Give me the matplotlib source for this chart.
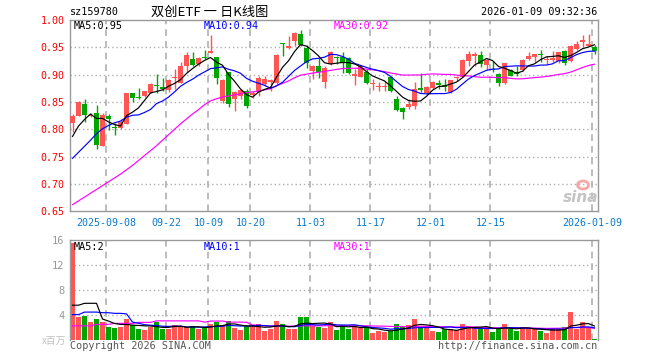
import numpy as np
import pandas as pd
import matplotlib
matplotlib.use("Agg")
import matplotlib.pyplot as plt
from matplotlib.patches import Ellipse

# ---------------- data ----------------
opens = [0.812, 0.825, 0.847, 0.825, 0.830, 0.770, 0.825, 0.804, 0.802, 0.810,
         0.866, 0.860, 0.861, 0.867, 0.881, 0.877, 0.872, 0.893, 0.885, 0.916,
         0.929, 0.919, 0.933, 0.940, 0.933, 0.852, 0.904, 0.855, 0.861, 0.870,
         0.862, 0.868, 0.882, 0.887, 0.884, 0.958, 0.948, 0.962, 0.975, 0.948,
         0.907, 0.916, 0.887, 0.919, 0.932, 0.933, 0.930, 0.898, 0.896, 0.904,
         0.882, 0.877, 0.877, 0.895, 0.856, 0.839, 0.841, 0.842, 0.876, 0.866,
         0.876, 0.884, 0.881, 0.868, 0.893, 0.896, 0.925, 0.935, 0.936, 0.918,
         0.911, 0.901, 0.884, 0.909, 0.905, 0.908, 0.928, 0.933, 0.938, 0.926,
         0.927, 0.925, 0.943, 0.925, 0.947, 0.959, 0.953, 0.951]
highs = [0.828, 0.852, 0.856, 0.830, 0.844, 0.829, 0.828, 0.812, 0.818, 0.867,
         0.867, 0.876, 0.871, 0.884, 0.902, 0.893, 0.892, 0.910, 0.924, 0.942,
         0.941, 0.932, 0.946, 0.972, 0.933, 0.892, 0.905, 0.870, 0.873, 0.873,
         0.870, 0.898, 0.898, 0.892, 0.938, 0.958, 0.970, 0.978, 0.982, 0.954,
         0.917, 0.930, 0.916, 0.944, 0.935, 0.941, 0.932, 0.910, 0.917, 0.910,
         0.892, 0.887, 0.889, 0.897, 0.861, 0.841, 0.855, 0.887, 0.903, 0.879,
         0.888, 0.890, 0.892, 0.891, 0.898, 0.929, 0.944, 0.942, 0.943, 0.929,
         0.925, 0.903, 0.922, 0.910, 0.916, 0.929, 0.941, 0.938, 0.945, 0.935,
         0.944, 0.942, 0.945, 0.954, 0.962, 0.972, 0.975, 0.954]
lows = [0.796, 0.824, 0.814, 0.822, 0.764, 0.769, 0.799, 0.790, 0.801, 0.809,
        0.850, 0.855, 0.860, 0.866, 0.866, 0.871, 0.869, 0.873, 0.884, 0.904,
        0.916, 0.916, 0.929, 0.939, 0.882, 0.849, 0.841, 0.833, 0.855, 0.839,
        0.858, 0.861, 0.880, 0.870, 0.882, 0.935, 0.947, 0.953, 0.953, 0.913,
        0.892, 0.893, 0.876, 0.917, 0.919, 0.903, 0.901, 0.881, 0.895, 0.882,
        0.872, 0.870, 0.871, 0.868, 0.833, 0.819, 0.838, 0.838, 0.868, 0.864,
        0.873, 0.873, 0.871, 0.867, 0.889, 0.895, 0.916, 0.916, 0.914, 0.908,
        0.904, 0.879, 0.882, 0.897, 0.898, 0.906, 0.927, 0.924, 0.924, 0.920,
        0.924, 0.922, 0.918, 0.924, 0.946, 0.950, 0.952, 0.938]
closes = [0.825, 0.850, 0.826, 0.827, 0.771, 0.826, 0.818, 0.802, 0.813, 0.866,
          0.858, 0.857, 0.870, 0.882, 0.879, 0.873, 0.890, 0.896, 0.916, 0.936,
          0.918, 0.930, 0.930, 0.943, 0.893, 0.890, 0.846, 0.868, 0.872, 0.842,
          0.866, 0.893, 0.892, 0.890, 0.936, 0.956, 0.953, 0.976, 0.954, 0.922,
          0.916, 0.904, 0.913, 0.942, 0.930, 0.922, 0.903, 0.901, 0.916, 0.885,
          0.884, 0.879, 0.879, 0.870, 0.835, 0.832, 0.847, 0.873, 0.872, 0.878,
          0.887, 0.881, 0.878, 0.890, 0.896, 0.927, 0.938, 0.937, 0.919, 0.927,
          0.908, 0.884, 0.921, 0.898, 0.902, 0.926, 0.935, 0.938, 0.936, 0.928,
          0.930, 0.941, 0.922, 0.953, 0.957, 0.964, 0.957, 0.943]
volumes = [15.5, 3.76, 3.9, 2.96, 3.39, 2.96, 2.12, 2.0, 2.17, 3.39,
           2.43, 1.85, 1.69, 2.06, 2.86, 1.85, 1.85, 2.43, 2.22, 2.06,
           2.22, 1.8, 1.9, 2.6, 2.96, 2.43, 3.07, 2.0, 1.69, 2.22,
           2.43, 2.6, 1.48, 1.85, 3.07, 2.6, 1.85, 1.85, 3.7, 3.7,
           2.22, 2.12, 2.0, 2.9, 1.64, 2.43, 1.8, 2.28, 2.0, 2.06,
           1.16, 1.48, 1.38, 1.43, 2.6, 2.06, 2.43, 3.39, 2.17, 2.22,
           1.48, 1.32, 1.75, 1.75, 1.59, 2.6, 2.28, 2.06, 1.96, 2.06,
           1.38, 1.8, 2.6, 1.8, 1.53, 2.12, 1.85, 1.8, 1.53, 1.16,
           1.8, 1.8, 2.12, 4.5, 1.8, 2.9, 2.0, 0.2]

# moving-average values at the left edge (need days before the window)
ma5_head = [0.787, 0.806, 0.818, 0.828]
ma10_head = [0.747, 0.758, 0.769, 0.780, 0.792, 0.801, 0.807, 0.812, 0.815]
ma30_head = [0.662, 0.669, 0.676, 0.683, 0.690, 0.697, 0.704, 0.711, 0.718, 0.726,
             0.734, 0.743, 0.752, 0.761, 0.770, 0.780, 0.790, 0.800, 0.810, 0.819,
             0.828, 0.836, 0.845, 0.852, 0.856, 0.859, 0.861, 0.863, 0.865]
vol_ma5_head = [5.6, 5.6, 5.9, 5.9]
vol_ma10_head = [4.1, 4.1, 4.5, 4.5, 4.5, 4.4, 4.4, 4.3, 4.3]
vol_ma30_head = [2.3, 2.3, 2.3, 2.3, 2.55, 2.55, 2.55, 2.7, 2.7, 2.7, 2.7, 2.86, 2.86, 2.86,
                 3.1, 3.1, 3.1, 3.1, 3.1, 3.1, 3.1, 3.1, 2.9, 3.07, 3.07, 3.07, 2.9, 2.9, 2.9]

start_date = "2025-08-29"
end_date = "2026-01-09"
holidays = ["2025-10-01", "2025-10-02", "2025-10-03", "2025-10-06", "2025-10-07",
            "2025-10-08", "2026-01-01", "2026-01-02"]
tick_dates = ["2025-09-08", "2025-09-22", "2025-10-09", "2025-10-20", "2025-11-03",
              "2025-11-17", "2025-12-01", "2025-12-15", "2026-01-09"]
tick_labels = ["2025-09-08", "09-22", "10-09", "10-20", "11-03",
               "11-17", "12-01", "12-15", "2026-01-09"]
price_ticks = [0.65, 0.70, 0.75, 0.80, 0.85, 0.90, 0.95, 1.00]
vol_ticks = [4, 8, 12, 16]

# ---------------- derived ----------------
dates = pd.bdate_range(start_date, end_date)
dates = dates[~dates.isin(pd.to_datetime(holidays))]
n = len(closes)
x = np.arange(n)
o = np.array(opens); c = np.array(closes); h = np.array(highs); l = np.array(lows)
v = np.array(volumes)

def ma(series, w, head):
    s = pd.Series(series).rolling(w).mean().to_numpy()
    s[:len(head)] = head
    return s

ma5 = ma(c, 5, ma5_head); ma10 = ma(c, 10, ma10_head); ma30 = ma(c, 30, ma30_head)
vma5 = ma(v, 5, vol_ma5_head); vma10 = ma(v, 10, vol_ma10_head); vma30 = ma(v, 30, vol_ma30_head)

RED = "#ff5555"; GREEN = "#00a600"
up = c >= o
cols = np.where(up, RED, GREEN)

MONO = "DejaVu Sans Mono"
CJK = ["Noto Sans CJK SC", "DejaVu Sans"]
GRID = "#b0b0b0"
FRAME = "#999999"
LW = 0.85

W, H = 660, 360
fig = plt.figure(figsize=(6.6, 3.6), dpi=100)
fig.patch.set_facecolor("white")

def fx(px): return px / W
def fy(py): return 1 - py / H

L, R = 70, 597.5
PT, PB = 20, 211.3
VT, VB = 240, 340.3
ax = fig.add_axes([fx(L), fy(PB), (R - L) / W, (PB - PT) / H])
axv = fig.add_axes([fx(L), fy(VB), (R - L) / W, (VB - VT) / H])

xlim = (-0.42, 87.5)
tick_pos = [dates.get_loc(pd.Timestamp(d)) - 0.35 for d in tick_dates]

# ---- price panel ----
for yv in price_ticks[1:-1]:
    ax.axhline(yv, color=GRID, lw=1, ls=(0, (1, 2)), zorder=0)
for tp in tick_pos:
    ax.axvline(tp, color=GRID, lw=1.2, ls=(0, (4, 3)), zorder=0)

ax.vlines(x, l, h, colors=cols, lw=1, zorder=2)
body_h = np.maximum(np.abs(c - o), 0.0009)
ax.bar(x, body_h, bottom=np.minimum(o, c), width=0.82, color=cols, lw=0, zorder=3)

ax.plot(x, ma30, color="#ff00ff", lw=LW, zorder=4)
ax.plot(x, ma10, color="#0000ff", lw=LW, zorder=4)
ax.plot(x, ma5, color="black", lw=LW, zorder=4)

ax.set_xlim(*xlim)
ax.set_ylim(0.65, 1.00)
ax.set_yticks(price_ticks)
ax.set_yticklabels([f"{t:.2f}" for t in price_ticks], family=MONO, fontsize=7.2)
ax.tick_params(axis="y", length=0, pad=4, labelcolor="red")
ax.set_xticks(tick_pos)
ax.set_xticklabels(tick_labels, family=MONO, fontsize=7.2)
ax.tick_params(axis="x", length=0, pad=5, labelcolor="#0a78cc")
for s in ax.spines.values():
    s.set_color(FRAME); s.set_linewidth(1)

# ---- volume panel ----
for yv in vol_ticks[:-1]:
    axv.axhline(yv, color=GRID, lw=1, ls=(0, (1, 2)), zorder=0)
for tp in tick_pos:
    axv.axvline(tp, color=GRID, lw=1.2, ls=(0, (4, 3)), zorder=0)
axv.bar(x, v, width=0.82, color=cols, lw=0, zorder=2)
axv.plot(x, vma30, color="#ff00ff", lw=LW, zorder=3)
axv.plot(x, vma10, color="#0000ff", lw=LW, zorder=3)
axv.plot(x, vma5, color="black", lw=LW, zorder=3)
axv.set_xlim(*xlim)
axv.set_ylim(0, 16)
axv.set_xticks([])
axv.set_yticks(vol_ticks)
axv.set_yticklabels([str(t) for t in vol_ticks], family=MONO, fontsize=7.5)
axv.tick_params(axis="y", length=0, pad=4, labelcolor="#999999")
for k, s in axv.spines.items():
    s.set_color(FRAME); s.set_linewidth(1)
axv.spines["bottom"].set_visible(False)

# ---- texts ----
fig.text(fx(70), fy(12), "sz159780", family=MONO, fontsize=7.3, va="center", ha="left")
fig.text(fx(210), fy(12), "双创ETF 一 日K线图", family=CJK, fontsize=9.5, va="center", ha="center")
fig.text(fx(597), fy(12), "2026-01-09 09:32:36", family=MONO, fontsize=7.3, va="center", ha="right")

fig.text(fx(74), fy(26), "MA5:0.95", family=MONO, fontsize=7.3, va="center", color="black")
fig.text(fx(204), fy(26), "MA10:0.94", family=MONO, fontsize=7.3, va="center", color="#0000ff")
fig.text(fx(334), fy(26), "MA30:0.92", family=MONO, fontsize=7.3, va="center", color="#ff00ff")

fig.text(fx(74), fy(246.5), "MA5:2", family=MONO, fontsize=7.3, va="center", color="black")
fig.text(fx(204), fy(246.5), "MA10:1", family=MONO, fontsize=7.3, va="center", color="#0000ff")
fig.text(fx(334), fy(246.5), "MA30:1", family=MONO, fontsize=7.3, va="center", color="#ff00ff")

fig.text(fx(66), fy(341), "x百万", family=CJK, fontsize=7, va="center", ha="right", color="#c0c0c0")
fig.text(fx(70), fy(346), "Copyright 2026 SINA.COM", family=MONO, fontsize=7.3, va="center",
         ha="left", color="#555555")
fig.text(fx(597), fy(346), "http://finance.sina.com.cn", family=MONO, fontsize=7.3, va="center",
         ha="right", color="#555555")

# sina watermark
fig.text(fx(581), fy(197), "sina", fontsize=11, style="italic", weight="bold",
         color="#c4c4c4", ha="center", va="center")
fig.patches.append(Ellipse((fx(583), fy(185)), 11 / W, 8 / H, transform=fig.transFigure,
                           fill=False, ec="#f6a8a8", lw=2))

fig.savefig("out.png", dpi=100)
